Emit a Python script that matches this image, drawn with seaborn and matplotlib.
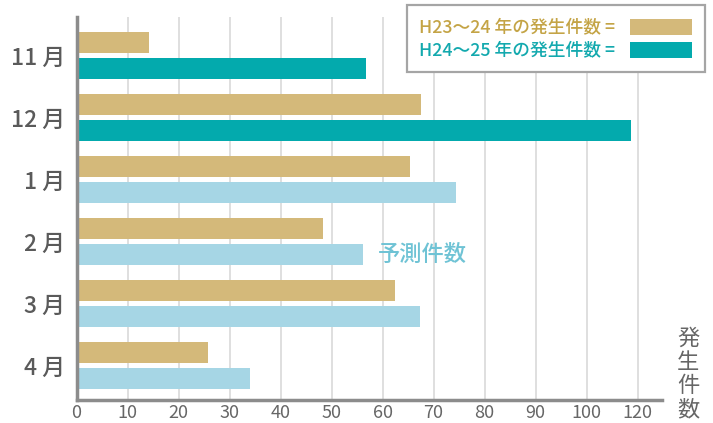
"""Monthly incident counts, H23-24 vs H24-25 (with forecast months)."""

import matplotlib

matplotlib.use("Agg")
import matplotlib.pyplot as plt
import pandas as pd
import seaborn as sns
from matplotlib.patches import Rectangle

MONTHS = ["11 月", "12 月", "1 月", "2 月", "3 月", "4 月"]
PREV_COUNTS = [14.2, 67.5, 65.4, 48.4, 62.4, 25.7]   # H23~24
CURR_COUNTS = [56.8, 108.7, 74.4, 56.1, 67.4, 34.0]  # H24~25
FORECAST_START = 2  # from 1月 on, H24~25 values are forecasts

X_TICKS = [0, 10, 20, 30, 40, 50, 60, 70, 80, 90, 100, 110]
X_TICK_LABELS = ["0", "10", "20", "30", "40", "50", "60", "70", "80", "90", "100", "120"]

PREV_LABEL = "H23〜24 年の発生件数 ="
CURR_LABEL = "H24〜25 年の発生件数 ="
FORECAST_LABEL = "予測件数"
AXIS_LABEL = "発\n生\n件\n数"

GOLD = "#d4b97a"
TEAL = "#03aaad"
LIGHT_BLUE = "#a6d6e5"
GOLD_TEXT = "#c4a446"
TEAL_TEXT = "#13a9ae"
FORECAST_TEXT = "#6fc3d5"
GRAY_TEXT = "#5a5a5a"

W, H = 713, 423


def fx(px):
    return px / W


def fy(py):
    return 1 - py / H


def main() -> None:
    sns.set_style("white")
    plt.rcParams["font.family"] = ["Noto Sans CJK JP", "DejaVu Sans"]

    df = pd.DataFrame(
        {
            "month": MONTHS * 2,
            "count": PREV_COUNTS + CURR_COUNTS,
            "period": ["prev"] * len(MONTHS) + ["curr"] * len(MONTHS),
        }
    )

    fig = plt.figure(figsize=(W / 100, H / 100), dpi=100)
    ax = fig.add_axes([fx(76.5), fy(400), fx(662 - 76.5), (400 - 17) / H])

    sns.barplot(
        data=df,
        x="count",
        y="month",
        hue="period",
        order=MONTHS,
        hue_order=["prev", "curr"],
        palette=[GOLD, TEAL],
        saturation=1,
        orient="h",
        width=0.82,
        gap=0.17,
        linewidth=0,
        legend=False,
        ax=ax,
    )
    for i, bar in enumerate(ax.containers[1]):
        if i >= FORECAST_START:
            bar.set_facecolor(LIGHT_BLUE)

    ax.set_xlim(0, 114.8)
    ax.set_ylim(5.556, -0.62)
    ax.set_xticks(X_TICKS)
    ax.set_xticklabels(X_TICK_LABELS)
    ax.set_xlabel("")
    ax.set_ylabel("")
    ax.tick_params(axis="x", length=0, pad=3, labelsize=13, labelcolor="#666666")
    ax.tick_params(axis="y", length=0, pad=8, labelsize=16.5, labelcolor=GRAY_TEXT)
    for label in ax.get_yticklabels():
        label.set_fontweight("medium")

    ax.xaxis.grid(True, color="#d9d9d9", linewidth=1.2)
    ax.set_axisbelow(True)
    for side in ("top", "right"):
        ax.spines[side].set_visible(False)
    for side in ("left", "bottom"):
        ax.spines[side].set_color("#8c8c8c")
        ax.spines[side].set_linewidth(2.5)

    # label next to the first forecast bar of 2月
    ax.text(59, MONTHS.index("2 月") + 0.205, FORECAST_LABEL, color=FORECAST_TEXT,
            fontsize=16, fontweight="medium", ha="left", va="center")

    fig.text(fx(688), fy(374), AXIS_LABEL, color="#666666", fontsize=16,
             ha="center", va="center", linespacing=1.05)

    # legend box drawn on top of the grid
    fig.add_artist(Rectangle((fx(407), fy(72)), fx(298), 67 / H, transform=fig.transFigure,
                             facecolor="white", edgecolor="#a5a5a5", linewidth=1.6, zorder=5))
    fig.add_artist(Rectangle((fx(630), fy(35)), fx(62), 16 / H, transform=fig.transFigure,
                             facecolor=GOLD, edgecolor="none", zorder=6))
    fig.add_artist(Rectangle((fx(630), fy(58)), fx(62), 16 / H, transform=fig.transFigure,
                             facecolor=TEAL, edgecolor="none", zorder=6))
    fig.text(fx(419), fy(27), PREV_LABEL, color=GOLD_TEXT, fontsize=12.8,
             fontweight="medium", ha="left", va="center", zorder=7)
    fig.text(fx(419), fy(50), CURR_LABEL, color=TEAL_TEXT, fontsize=12.8,
             fontweight="medium", ha="left", va="center", zorder=7)

    fig.savefig("out.png", dpi=100)
    plt.close(fig)


if __name__ == "__main__":
    main()
